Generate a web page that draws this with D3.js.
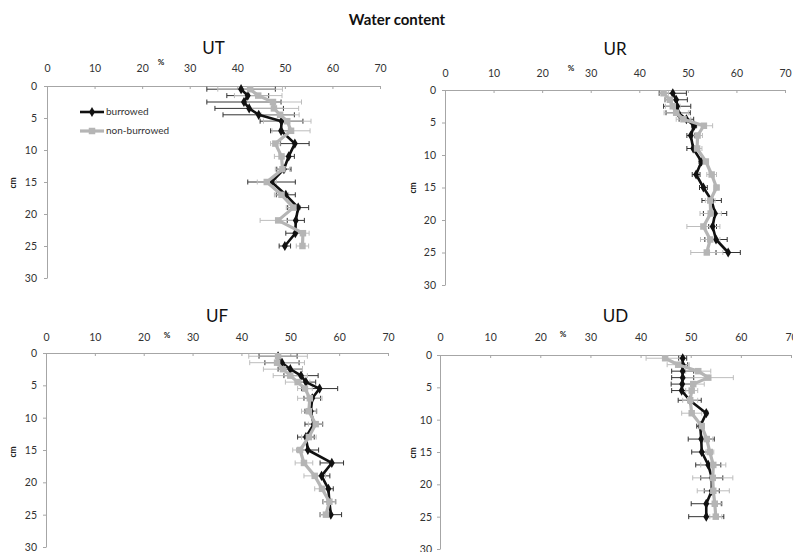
<!DOCTYPE html>
<html><head><meta charset="utf-8">
<script src="https://cdn.jsdelivr.net/npm/d3@7"></script>
<style>
body{margin:0;background:#fff;}
svg{display:block;font-family:Lato,"Open Sans",sans-serif;}
</style></head>
<body><svg id="c" width="793" height="552"></svg>
<script>
// ---- data ----
const depths = [0.5,1.5,2.5,3.5,4.5,5.5,7,9,11,13,15,17,19,21,23,25];
const xTicks = [0,10,20,30,40,50,60,70];
const yTicks = [0,5,10,15,20,25,30];
const panelNames = ["UT","UR","UF","UD"];
const seriesNames = ["burrowed","non-burrowed"];

const utBurrowed    = [40.8,42.2,41.4,42.5,44.5,49.3,49.2,52.1,50.8,49.8,47.2,50.2,52.8,52.3,52.2,50.0];
const utBurrowedErr = [7.2,4.4,7.8,7.2,7.5,4.5,2.2,3.0,1.2,1.5,5.0,2.0,2.2,1.8,2.0,1.2];
const utNon         = [42.7,44.4,47.5,47.7,49.0,50.5,51.3,48.0,49.3,49.5,46.2,49.3,51.8,48.6,53.8,53.7];
const utNonErr      = [6.8,5.0,6.0,5.2,4.0,5.0,4.0,1.0,1.5,1.5,2.0,1.5,1.5,3.8,1.3,1.3];

const urBurrowed    = [46.9,47.6,47.8,48.0,49.7,51.3,50.6,51.1,52.8,51.7,53.2,54.9,55.6,55.1,55.8,58.3];
const urBurrowedErr = [2.8,2.3,2.8,2.5,1.5,0.5,0.8,1.3,0.5,0.8,0.8,2.0,2.4,0.8,2.3,2.5];
const urNon         = [45.0,46.3,46.9,47.6,49.1,53.3,52.0,51.9,53.7,54.9,55.9,54.6,54.7,53.2,54.6,53.9];
const urNonErr      = [1.0,1.0,1.5,2.5,1.5,1.8,1.0,1.0,0.5,1.0,0.5,1.0,2.2,3.4,2.0,3.3];

const ufBurrowed    = [47.5,48.3,50.0,52.2,53.2,56.0,54.5,54.2,54.8,53.2,53.6,58.5,56.4,57.8,58.0,58.3];
const ufBurrowedErr = [3.9,3.5,2.5,3.5,2.0,3.7,1.7,1.2,1.8,1.7,2.2,2.4,1.7,1.0,1.3,2.2];
const ufNon         = [47.5,47.3,48.5,50.0,51.5,53.0,54.0,53.8,55.2,53.8,52.0,52.8,55.0,56.5,58.0,57.3];
const ufNonErr      = [6.0,5.6,4.0,3.5,2.5,1.5,2.5,1.5,1.5,1.5,1.5,1.8,2.2,1.5,1.2,1.2];

const udBurrowed    = [48.4,48.4,48.4,48.4,48.3,48.2,49.8,53.1,51.9,52.1,52.2,53.5,54.2,54.2,53.1,53.1];
const udBurrowedErr = [0.8,1.0,2.2,2.2,2.2,2.0,2.3,0.3,0.7,2.6,2.0,2.5,2.2,1.5,3.0,3.5];
const udNon         = [44.9,47.5,51.5,53.5,50.5,50.2,49.9,50.2,52.2,53.2,53.8,54.5,54.4,54.5,54.8,55.0];
const udNonErr      = [3.8,2.2,2.5,5.0,2.2,1.2,1.5,2.0,0.5,1.2,0.8,2.5,4.0,3.2,1.5,1.2];

const panelData = {
  UT:{b:utBurrowed,be:utBurrowedErr,n:utNon,ne:utNonErr},
  UR:{b:urBurrowed,be:urBurrowedErr,n:urNon,ne:urNonErr},
  UF:{b:ufBurrowed,be:ufBurrowedErr,n:ufNon,ne:ufNonErr},
  UD:{b:udBurrowed,be:udBurrowedErr,n:udNon,ne:udNonErr}
};

// ---- layout (pixels) ----
const layout = {
  UT:{x0:47, x1:380, y0:86,  y1:278, titleY:50,  tickY:68,  pctY:63,  pctX:161, labX:37,  cmX:14,  cmY:183},
  UR:{x0:445,x1:785, y0:90,  y1:285, titleY:51,  tickY:73,  pctY:69,  pctX:571, labX:436, cmX:414, cmY:188},
  UF:{x0:46, x1:388, y0:353, y1:547, titleY:318, tickY:337, pctY:336, pctX:167, labX:37,  cmX:14,  cmY:452},
  UD:{x0:440,x1:791, y0:355, y1:549, titleY:318, tickY:337, pctY:335, pctX:563, labX:432, cmX:414, cmY:453}
};

const BLACK = "#111", GREY = "#b5b5b5", AXIS = "#a6a6a6";
const svg = d3.select("#c");

svg.append("text").attr("x",397).attr("y",25).attr("text-anchor","middle")
  .attr("font-weight","bold").attr("font-size",15).attr("fill","#111").text("Water content");

const diamond = d3.symbol().type(d3.symbolDiamond).size(30);
const square = d3.symbol().type(d3.symbolSquare).size(42);

panelNames.forEach(name=>{
  const L = layout[name], D = panelData[name];
  const x = d3.scaleLinear().domain([0,70]).range([L.x0,L.x1]);
  const y = d3.scaleLinear().domain([0,30]).range([L.y0,L.y1]);
  const g = svg.append("g");

  // title
  g.append("text").attr("x",(L.x0+L.x1)/2).attr("y",L.titleY).attr("text-anchor","middle")
    .attr("dominant-baseline","middle").attr("font-size",17).attr("fill","#111").text(name);

  // x axis (top)
  const xa = g.append("g").attr("transform",`translate(0,${L.y0})`)
    .call(d3.axisTop(x).tickValues(xTicks).tickSize(-3).tickSizeOuter(0).tickPadding(0));
  xa.select(".domain").attr("stroke",AXIS);
  xa.selectAll(".tick line").attr("stroke",AXIS);
  xa.selectAll(".tick text").attr("y",L.tickY-L.y0).attr("dy","0.35em")
    .attr("font-size",10.5).attr("fill","#333").attr("font-family","Lato,sans-serif");

  // y axis
  const ya = g.append("g").attr("transform",`translate(${L.x0},0)`)
    .call(d3.axisLeft(y).tickValues(yTicks).tickSize(3).tickSizeOuter(0).tickPadding(0));
  ya.select(".domain").attr("stroke",AXIS);
  ya.selectAll(".tick line").attr("stroke",AXIS);
  ya.selectAll(".tick text").attr("x",L.labX-L.x0).attr("font-size",10.5).attr("fill","#333")
    .attr("font-family","Lato,sans-serif");

  // axis titles
  g.append("text").attr("x",L.pctX).attr("y",L.pctY).attr("text-anchor","middle")
    .attr("dominant-baseline","middle").attr("font-size",8).attr("font-weight","bold").attr("fill","#222").text("%");
  g.append("text").attr("transform",`translate(${L.cmX},${L.cmY}) rotate(-90)`).attr("text-anchor","middle")
    .attr("dominant-baseline","middle").attr("font-size",8.5).attr("font-weight","bold").attr("fill","#222").text("cm");

  const series = [
    {vals:D.b, err:D.be, col:BLACK, ecol:"#333", w:2.6, sym:diamond},
    {vals:D.n, err:D.ne, col:GREY,  ecol:"#bdbdbd", w:3.2, sym:square}
  ];

  // error bars
  series.forEach(s=>{
    const eg = g.append("g").attr("stroke",s.ecol).attr("stroke-width",1).attr("fill","none");
    depths.forEach((d,i)=>{
      const lo = x(s.vals[i]-s.err[i]), hi = x(s.vals[i]+s.err[i]), yy = y(d);
      eg.append("line").attr("x1",lo).attr("x2",hi).attr("y1",yy).attr("y2",yy);
      eg.append("line").attr("x1",lo).attr("x2",lo).attr("y1",yy-2.5).attr("y2",yy+2.5);
      eg.append("line").attr("x1",hi).attr("x2",hi).attr("y1",yy-2.5).attr("y2",yy+2.5);
    });
  });

  // lines + markers
  series.forEach(s=>{
    const line = d3.line().x((v)=>x(v)).y((v,i)=>y(depths[i]));
    g.append("path").attr("d",line(s.vals)).attr("fill","none").attr("stroke",s.col)
      .attr("stroke-width",s.w).attr("stroke-linejoin","round");
    g.append("g").selectAll("path").data(s.vals).join("path")
      .attr("transform",(v,i)=>`translate(${x(v)},${y(depths[i])})`)
      .attr("d",s.sym).attr("fill",s.col);
  });

  // legend only in UT
  if(name==="UT"){
    const lg = g.append("g");
    const items = [{t:seriesNames[0],col:BLACK,w:2.6,sym:diamond,yy:112},{t:seriesNames[1],col:GREY,w:3.2,sym:square,yy:131}];
    items.forEach(it=>{
      lg.append("line").attr("x1",80).attr("x2",104).attr("y1",it.yy).attr("y2",it.yy)
        .attr("stroke",it.col).attr("stroke-width",it.w);
      lg.append("path").attr("transform",`translate(92,${it.yy})`).attr("d",it.sym).attr("fill",it.col);
      lg.append("text").attr("x",106).attr("y",it.yy).attr("dominant-baseline","middle")
        .attr("font-size",10).attr("fill","#333").text(it.t);
    });
  }
});
</script></body></html>
